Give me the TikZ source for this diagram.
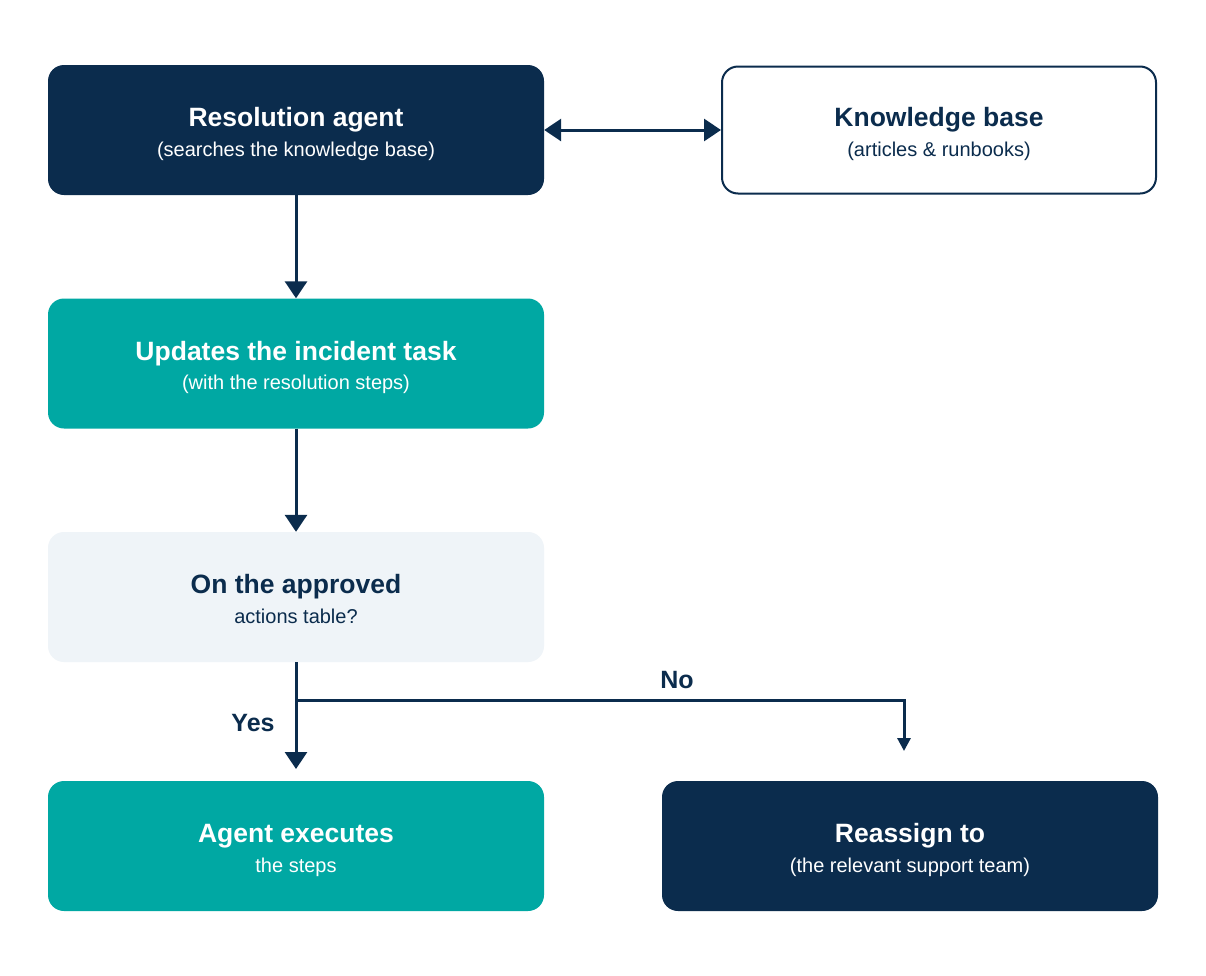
\documentclass[tikz,border=0pt]{standalone}
\usepackage{fontspec}
\setmainfont{Liberation Sans}
\usetikzlibrary{arrows.meta}
\definecolor{navy}{HTML}{0B2C4D}
\definecolor{teal}{HTML}{00A8A3}
\definecolor{light}{HTML}{EFF4F8}
\tikzset{
  box/.style={minimum width=496pt, minimum height=130pt, rounded corners=16pt, align=center, inner sep=0pt},
  darkbox/.style={box, fill=navy, text=white},
  tealbox/.style={box, fill=teal, text=white},
  lightbox/.style={box, fill=light, text=navy},
  whitebox/.style={box, fill=white, draw=navy, line width=2pt, text=navy},
  conn/.style={draw=navy, line width=3pt, -{Triangle[length=17pt,width=22pt]}},
  lbl/.style={text=navy, font=\fontsize{25}{28}\selectfont\bfseries},
}
\newcommand{\ttl}[1]{{\fontsize{26.5}{30}\selectfont\bfseries\rule{0pt}{30pt}#1}}
\newcommand{\sub}[1]{\raisebox{0pt}[14pt][7pt]{\fontsize{20}{22}\selectfont #1}}
\begin{document}
\begin{tikzpicture}[x=1pt,y=-1pt]
\useasboundingbox (0,0) rectangle (1206,975);
\fill[white] (0,0) rectangle (1206,975);
\node[darkbox] (ra) at (296,130) {\ttl{Resolution agent}\\[9pt]\sub{(searches the knowledge base)}};
\node[whitebox, minimum width=434pt, minimum height=127pt] (kb) at (939,130) {\ttl{Knowledge base}\\[9pt]\sub{(articles \& runbooks)}};
\node[tealbox] (up) at (296,363.5) {\ttl{Updates the incident task}\\[9pt]\sub{(with the resolution steps)}};
\node[lightbox] (ap) at (296,597) {\ttl{On the approved}\\[9pt]\sub{actions table?}};
\node[tealbox] (ex) at (296,846) {\ttl{Agent executes}\\[9pt]\sub{the steps}};
\node[darkbox] (re) at (910,846) {\ttl{Reassign to}\\[9pt]\sub{(the relevant support team)}};
\coordinate (br) at (296,700);
\coordinate (nc) at (904,700);
\coordinate (ne) at (904,751);
\coordinate (ye) at (296,769);
\draw[draw=navy, line width=3pt, {Triangle[length=17pt,width=22pt]}-{Triangle[length=17pt,width=22pt]}] (ra.east) -- (kb.west);
\draw[conn] (ra.south) -- (up.north);
\draw[conn] (up.south) -- (ap.north);
\draw[conn] (ap.south) -- (ye);
\draw[draw=navy, line width=3pt, -{Triangle[length=13pt,width=13pt]}] (br) -- (nc) -- (ne);
\node[lbl] (yes) at (253,723) {Yes};
\node[lbl] (no) at (677,680) {No};
\end{tikzpicture}
\end{document}
